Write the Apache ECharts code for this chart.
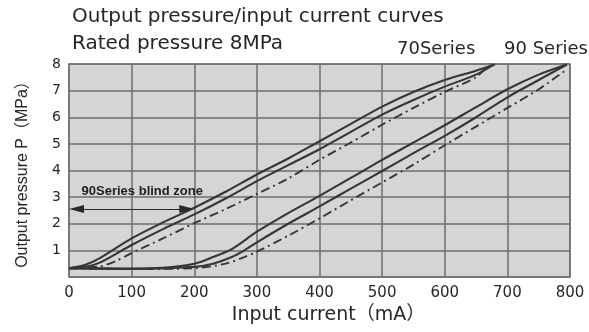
<!DOCTYPE html>
<html>
<head>
<meta charset="utf-8">
<script src="https://cdn.jsdelivr.net/npm/echarts@6/dist/echarts.min.js"></script>
<style>
html,body{margin:0;padding:0;background:#fff;}
#chart{width:589px;height:332px;}
</style>
</head>
<body>
<div id="chart"></div>
<script>
// ---- data (mA, MPa) ----
const mA70Up   = [0, 25, 50, 100, 150, 200, 250, 300, 350, 400, 450, 500, 550, 600, 650, 680];
const p70Up    = [0.33, 0.45, 0.72, 1.45, 2.05, 2.6, 3.2, 3.85, 4.45, 5.1, 5.75, 6.4, 6.95, 7.4, 7.75, 7.98];
const mA70Down = [0, 25, 50, 100, 150, 200, 250, 300, 350, 400, 450, 500, 550, 600, 650, 678];
const p70Down  = [0.33, 0.38, 0.55, 1.2, 1.8, 2.35, 2.95, 3.6, 4.2, 4.8, 5.45, 6.1, 6.65, 7.15, 7.6, 7.98];
const mA70Mid  = [0, 50, 75, 100, 150, 200, 250, 300, 350, 400, 450, 500, 550, 600, 650, 662];
const p70Mid   = [0.33, 0.4, 0.6, 0.9, 1.45, 2.02, 2.55, 3.12, 3.7, 4.4, 5.05, 5.72, 6.35, 6.95, 7.5, 7.78];

const mA90Up   = [0, 100, 150, 200, 230, 260, 300, 350, 400, 450, 500, 550, 600, 650, 700, 750, 795];
const p90Up    = [0.33, 0.32, 0.35, 0.5, 0.75, 1.05, 1.7, 2.4, 3.05, 3.72, 4.4, 5.05, 5.7, 6.38, 7.05, 7.6, 7.98];
const mA90Down = [0, 100, 200, 230, 260, 280, 300, 350, 400, 450, 500, 550, 600, 650, 700, 750, 795];
const p90Down  = [0.33, 0.3, 0.38, 0.5, 0.75, 1.0, 1.3, 2.0, 2.65, 3.32, 3.98, 4.65, 5.3, 6.0, 6.75, 7.4, 7.98];
const mA90Mid  = [0, 100, 200, 250, 280, 300, 350, 400, 450, 500, 550, 600, 650, 700, 750, 795];
const p90Mid   = [0.33, 0.3, 0.33, 0.5, 0.75, 0.95, 1.55, 2.2, 2.88, 3.55, 4.22, 4.95, 5.65, 6.35, 7.05, 7.8];

const blindZoneRange = [0, 200];   // mA
const blindZoneLevel = 2.55;       // MPa
const blindZoneLabelAt = [117, 3.2];

const titleText = 'Output pressure/input current curves';
const subtitleText = 'Rated pressure 8MPa';
const label70 = '70Series';
const label90 = '90 Series';
const blindText = '90Series blind zone';
const xName = 'Input current（mA）';
const yName = 'Output pressure P（MPa）';

const zip = (xs, ys) => xs.map((x, i) => [x, ys[i]]);

const LINE = '#363636';
const TEXT = '#262626';
const FONT = 'DejaVu Sans, Noto Sans CJK SC, sans-serif';
const ARROW_LEN = 15;

function lineSeries(name, xs, ys, dashed) {
  return {
    name: name,
    type: 'line',
    data: zip(xs, ys),
    smooth: 0.3,
    showSymbol: false,
    silent: true,
    lineStyle: {
      color: LINE,
      width: dashed ? 1.9 : 2.1,
      type: dashed ? [9, 4, 2, 4] : 'solid'
    }
  };
}

const chart = echarts.init(document.getElementById('chart'), null, {renderer: 'canvas'});

const series = [
  lineSeries('70 up', mA70Up, p70Up, false),
  lineSeries('70 down', mA70Down, p70Down, false),
  lineSeries('70 mid', mA70Mid, p70Mid, true),
  lineSeries('90 up', mA90Up, p90Up, false),
  lineSeries('90 down', mA90Down, p90Down, false),
  lineSeries('90 mid', mA90Mid, p90Mid, true)
];

chart.setOption({
  animation: false,
  backgroundColor: '#ffffff',
  grid: {
    left: 69, top: 64, right: 19, bottom: 55,
    show: true,
    backgroundColor: '#d5d5d5',
    borderColor: '#7a7a7a',
    borderWidth: 1.5
  },
  xAxis: {
    type: 'value',
    min: 0, max: 800, interval: 100,
    name: xName,
    nameLocation: 'middle',
    nameGap: 26,
    nameTextStyle: {fontFamily: FONT, fontSize: 19, color: TEXT, padding: [0, 0, 0, 18]},
    axisLine: {show: false},
    axisTick: {show: false},
    axisLabel: {fontFamily: FONT, fontSize: 15, color: TEXT, margin: 9},
    splitLine: {lineStyle: {color: '#6e6e6e', width: 1.5}}
  },
  yAxis: {
    type: 'value',
    min: 0, max: 8, interval: 1,
    name: yName,
    nameLocation: 'middle',
    nameGap: 38,
    nameTextStyle: {fontFamily: 'Liberation Sans, Noto Sans CJK SC, sans-serif', fontSize: 16, color: TEXT},
    axisLine: {show: false},
    axisTick: {show: false},
    axisLabel: {
      fontFamily: FONT, fontSize: 14, color: TEXT, margin: 8,
      formatter: v => (v === 0 ? '' : String(v))
    },
    splitLine: {lineStyle: {color: '#6e6e6e', width: 1.5}}
  },
  series: series
});

// arrow heads sit inside the blind-zone span, tips at its ends
const p0 = chart.convertToPixel({gridIndex: 0}, [0, 0]);
const p100 = chart.convertToPixel({gridIndex: 0}, [100, 0]);
const halfArrow = (ARROW_LEN / 2) * 100 / (p100[0] - p0[0]);
const lp = chart.convertToPixel({gridIndex: 0}, blindZoneLabelAt);

chart.setOption({
  series: [{
    markLine: {
      silent: true,
      symbol: ['triangle', 'triangle'],
      symbolSize: [8, ARROW_LEN],
      label: {show: false},
      lineStyle: {color: '#2a2a2a', width: 1, type: 'solid'},
      data: [[
        {coord: [blindZoneRange[0] + halfArrow, blindZoneLevel]},
        {coord: [blindZoneRange[1] - halfArrow, blindZoneLevel]}
      ]]
    }
  }],
  graphic: [
    {type: 'text', x: 72, y: 17, style: {text: titleText, font: '20px ' + FONT, fill: TEXT, textVerticalAlign: 'middle'}},
    {type: 'text', x: 72, y: 44, style: {text: subtitleText, font: '20px ' + FONT, fill: TEXT, textVerticalAlign: 'middle'}},
    {type: 'text', x: 397, y: 49, style: {text: label70, font: '18px ' + FONT, fill: TEXT, textVerticalAlign: 'middle'}},
    {type: 'text', x: 504, y: 49, style: {text: label90, font: '18px ' + FONT, fill: TEXT, textVerticalAlign: 'middle'}},
    {type: 'text', x: lp[0], y: lp[1], style: {text: blindText, font: 'bold 13px Liberation Sans, sans-serif', fill: '#222', textAlign: 'center', textVerticalAlign: 'middle'}}
  ]
});
</script>
</body>
</html>
